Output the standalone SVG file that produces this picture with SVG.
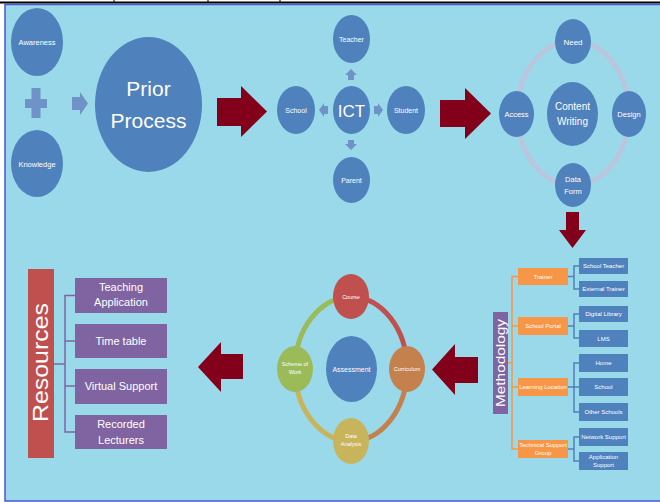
<svg xmlns="http://www.w3.org/2000/svg" width="660" height="502" viewBox="0 0 660 502">
<style>
.t{font-family:"Liberation Sans",Arial,sans-serif;fill:#fff;text-anchor:middle}
.c{fill:#4f81bd}
.big{fill:#82001a}
.sm{fill:#6f93c6}
.ob{fill:#f79646}
.bb{fill:#4f81bd}
.pb{fill:#8064a2}
.ol{stroke:#f79646;fill:none;stroke-width:1.5}
.bl{stroke:#4f81bd;fill:none;stroke-width:1.5}
.pl{stroke:#8064a2;fill:none;stroke-width:1.5}
.ring{fill:none;stroke-width:5}
</style>
<rect x="0" y="0" width="660" height="502" fill="#fff"/>
<rect x="5" y="4.5" width="657" height="496.5" fill="#9ad9ea" stroke="#4a55cf" stroke-width="1.5"/>
<g id="frame-top" stroke="#000">
<line x1="0" y1="2.5" x2="660" y2="2.5" stroke-width="2"/>
<line x1="114" y1="0" x2="114" y2="2" stroke-width="1"/>
<line x1="208" y1="0" x2="208" y2="2" stroke-width="1"/>
<line x1="280" y1="0" x2="280" y2="2" stroke-width="1"/>
</g>

<g id="connectors">
<ellipse class="ring" cx="573" cy="113" rx="56" ry="72" stroke="#b9c6de"/>
<path class="ring" d="M351,297 A56,72 0 0 1 407,369" stroke="#c0504d"/>
<path class="ring" d="M407,369 A56,72 0 0 1 351,441" stroke="#c4804d"/>
<path class="ring" d="M351,441 A56,72 0 0 1 295,369" stroke="#c8b45a"/>
<path class="ring" d="M295,369 A56,72 0 0 1 351,297" stroke="#9bbb59"/>
<polygon class="big" points="217,98 241,98 241,86 267,111.5 241,137 241,126 217,126"/>
<polygon class="big" points="440,100 465,100 465,88 491,113.5 465,139 465,127 440,127"/>
<polygon class="big" points="566,212 579,212 579,230 586,230 572.5,248 559,230 566,230"/>
<polygon class="big" points="478,357 455,357 455,344 432,369.5 455,395 455,383 478,383"/>
<polygon class="big" points="243,354 221,354 221,342 198,367 221,392 221,379 243,379"/>
<polygon class="sm" points="72,97 80,97 80,92 88,103.5 80,115 80,110 72,110"/>
<polygon class="sm" points="25,99 31.5,99 31.5,88 40.5,88 40.5,99 47,99 47,108 40.5,108 40.5,118 31.5,118 31.5,108 25,108"/>
<polygon class="sm" points="351,69 357,75 354,75 354,80 348,80 348,75 345,75"/>
<polygon class="sm" points="348,140 354,140 354,144 357,144 351,150 345,144 348,144"/>
<polygon class="sm" points="319,110 324,103 324,106 328,106 328,114 324,114 324,117"/>
<polygon class="sm" points="383,110 378,103 378,106 374,106 374,114 378,114 378,117"/>
<path class="ol" d="M508,363 H512 M518,276.5 H512 V449 H518 M512,326 H518 M512,387 H518"/>
<path class="bl" d="M568,276.5 H574 M579,266 H574 V289 H579"/>
<path class="bl" d="M568,326 H574 M579,314 H574 V338 H579"/>
<path class="bl" d="M568,387 H579 M579,363 H574 V412 H579"/>
<path class="bl" d="M568,449 H574 M579,437 H574 V461 H579"/>
<path class="pl" d="M54,364 H65 M75,295.5 H65 V432 H75 M65,341 H75 M65,386 H75"/>
</g>

<g id="awareness"><ellipse class="c" cx="37" cy="42" rx="26" ry="34"/><text class="t" x="37" y="44.5" font-size="7.5">Awareness</text></g>
<g id="knowledge"><ellipse class="c" cx="37" cy="163.5" rx="26" ry="33.5"/><text class="t" x="37" y="166.5" font-size="7.5">Knowledge</text></g>
<g id="prior-process"><ellipse class="c" cx="148.5" cy="104.5" rx="53.5" ry="67.5"/><text class="t" x="148.5" y="96" font-size="21">Prior</text><text class="t" x="148.5" y="128" font-size="21">Process</text></g>

<g id="ict"><ellipse class="c" cx="351.5" cy="110" rx="18.5" ry="24"/><text class="t" x="351.5" y="117" font-size="17">ICT</text></g>
<g id="teacher"><ellipse class="c" cx="351.5" cy="39" rx="18.5" ry="24"/><text class="t" x="351.5" y="42" font-size="7">Teacher</text></g>
<g id="school"><ellipse class="c" cx="296" cy="110" rx="19" ry="24"/><text class="t" x="296" y="113" font-size="7">School</text></g>
<g id="student"><ellipse class="c" cx="406" cy="110" rx="19" ry="24"/><text class="t" x="406" y="113" font-size="7">Student</text></g>
<g id="parent"><ellipse class="c" cx="351.5" cy="180" rx="18.5" ry="23"/><text class="t" x="351.5" y="183" font-size="7">Parent</text></g>

<g id="content-writing"><ellipse class="c" cx="572.5" cy="114" rx="25.5" ry="32"/><text class="t" x="572.5" y="110" font-size="10">Content</text><text class="t" x="572.5" y="125" font-size="10">Writing</text></g>
<g id="need"><ellipse class="c" cx="573" cy="41.5" rx="18" ry="22.5"/><text class="t" x="573" y="45" font-size="8">Need</text></g>
<g id="access"><ellipse class="c" cx="516.5" cy="114" rx="17.5" ry="23"/><text class="t" x="516.5" y="117" font-size="7.5">Access</text></g>
<g id="design"><ellipse class="c" cx="629" cy="114" rx="17" ry="23"/><text class="t" x="629" y="117" font-size="7.5">Design</text></g>
<g id="data-form"><ellipse class="c" cx="573" cy="185" rx="18" ry="22"/><text class="t" x="573" y="182" font-size="7.5">Data</text><text class="t" x="573" y="194" font-size="7.5">Form</text></g>

<g id="methodology"><rect class="pb" x="493" y="312" width="15" height="102"/><text class="t" transform="translate(504.5,363) rotate(-90)" font-size="12" textLength="88" lengthAdjust="spacingAndGlyphs">Methodology</text></g>
<g id="trainer"><rect class="ob" x="518" y="268" width="50" height="17"/><text class="t" x="543" y="278.5" font-size="6">Trainer</text></g>
<g id="school-portal"><rect class="ob" x="518" y="317" width="50" height="18"/><text class="t" x="543" y="328" font-size="6">School Portal</text></g>
<g id="learning-location"><rect class="ob" x="518" y="378" width="50" height="18"/><text class="t" x="543" y="389" font-size="6">Learning Location</text></g>
<g id="technical-support-group"><rect class="ob" x="518" y="440" width="50" height="18"/><text class="t" x="543" y="447" font-size="6">Technical Support</text><text class="t" x="543" y="455" font-size="6">Group</text></g>
<g id="school-teacher"><rect class="bb" x="579" y="258" width="49" height="16"/><text class="t" x="603.5" y="268" font-size="6">School Teacher</text></g>
<g id="external-trainer"><rect class="bb" x="579" y="281" width="49" height="16"/><text class="t" x="603.5" y="291" font-size="6">External Trainer</text></g>
<g id="digital-library"><rect class="bb" x="579" y="306" width="49" height="16"/><text class="t" x="603.5" y="316" font-size="6">Digital Library</text></g>
<g id="lms"><rect class="bb" x="579" y="330" width="49" height="17"/><text class="t" x="603.5" y="340.5" font-size="6">LMS</text></g>
<g id="home"><rect class="bb" x="579" y="354" width="49" height="18"/><text class="t" x="603.5" y="365" font-size="6">Home</text></g>
<g id="school-loc"><rect class="bb" x="579" y="378" width="49" height="18"/><text class="t" x="603.5" y="389" font-size="6">School</text></g>
<g id="other-schools"><rect class="bb" x="579" y="403" width="49" height="18"/><text class="t" x="603.5" y="414" font-size="6">Other Schools</text></g>
<g id="network-support"><rect class="bb" x="579" y="428" width="49" height="18"/><text class="t" x="603.5" y="439" font-size="6">Network Support</text></g>
<g id="application-support"><rect class="bb" x="579" y="452" width="49" height="18"/><text class="t" x="603.5" y="459" font-size="6">Application</text><text class="t" x="603.5" y="467" font-size="6">Support</text></g>

<g id="assessment"><ellipse class="c" cx="351.5" cy="369" rx="25.5" ry="33"/><text class="t" x="351.5" y="371.5" font-size="7">Assessment</text></g>
<g id="course"><ellipse cx="351" cy="296.5" rx="18" ry="22.5" fill="#c0504d"/><text class="t" x="351" y="298.5" font-size="5.5">Course</text></g>
<g id="curriculum"><ellipse cx="407" cy="369" rx="18" ry="23" fill="#c4804d"/><text class="t" x="407" y="371" font-size="5.5">Curriculum</text></g>
<g id="data-analysis"><ellipse cx="351" cy="441" rx="18" ry="23" fill="#c8b45a"/><text class="t" x="351" y="438" font-size="5.5">Data</text><text class="t" x="351" y="446" font-size="5.5">Analysis</text></g>
<g id="scheme-of-work"><ellipse cx="295" cy="369" rx="18" ry="23" fill="#9bbb59"/><text class="t" x="295" y="366" font-size="5.5">Scheme of</text><text class="t" x="295" y="374" font-size="5.5">Work</text></g>

<g id="resources"><rect x="28" y="269" width="26" height="189" fill="#c0504d"/><text class="t" transform="translate(48,362.5) rotate(-90)" font-size="22" textLength="119" lengthAdjust="spacingAndGlyphs">Resources</text></g>
<g id="teaching-application"><rect class="pb" x="75" y="278" width="92" height="35"/><text class="t" x="121" y="291" font-size="11">Teaching</text><text class="t" x="121" y="306" font-size="11">Application</text></g>
<g id="time-table"><rect class="pb" x="75" y="324" width="92" height="34"/><text class="t" x="121" y="344.5" font-size="11">Time table</text></g>
<g id="virtual-support"><rect class="pb" x="75" y="369" width="92" height="35"/><text class="t" x="121" y="390" font-size="11">Virtual Support</text></g>
<g id="recorded-lecturers"><rect class="pb" x="75" y="415" width="92" height="34"/><text class="t" x="121" y="428" font-size="11">Recorded</text><text class="t" x="121" y="444" font-size="11">Lecturers</text></g>
</svg>
